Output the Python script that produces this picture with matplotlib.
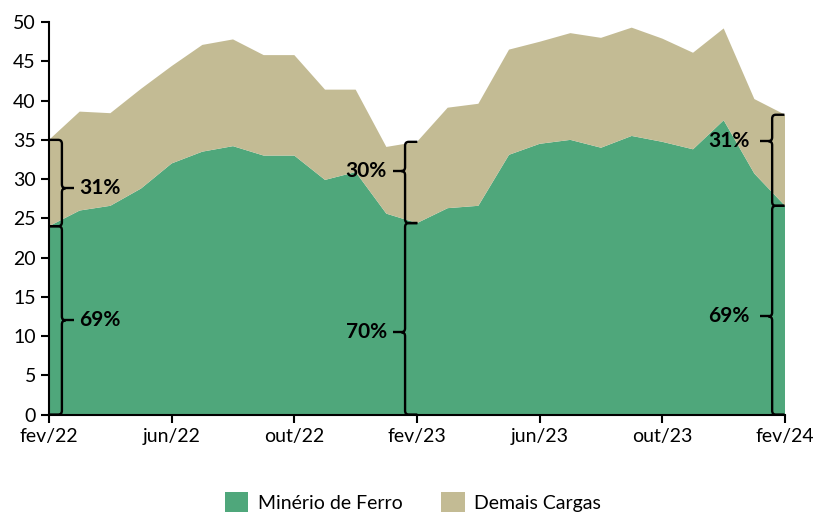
import matplotlib
matplotlib.use("Agg")
import matplotlib.pyplot as plt
from matplotlib.path import Path
from matplotlib.patches import PathPatch, Patch
import numpy as np

plt.rcParams['font.family'] = ['Lato', 'DejaVu Sans']

meses = ['fev/22', 'mar/22', 'abr/22', 'mai/22', 'jun/22', 'jul/22', 'ago/22', 'set/22',
         'out/22', 'nov/22', 'dez/22', 'jan/23', 'fev/23', 'mar/23', 'abr/23', 'mai/23',
         'jun/23', 'jul/23', 'ago/23', 'set/23', 'out/23', 'nov/23', 'dez/23', 'jan/24', 'fev/24']
minerio = [24.0, 26.0, 26.6, 28.8, 32.0, 33.5, 34.2, 33.0, 33.0, 29.9, 30.9, 25.6, 24.4,
           26.3, 26.6, 33.1, 34.5, 35.0, 34.0, 35.5, 34.75, 33.8, 37.5, 30.7, 26.6]
total = [35.0, 38.6, 38.4, 41.5, 44.4, 47.1, 47.8, 45.8, 45.8, 41.4, 41.4, 34.1, 34.75,
         39.1, 39.6, 46.5, 47.5, 48.6, 48.0, 49.3, 47.9, 46.1, 49.2, 40.2, 38.2]
demais = [t - m for t, m in zip(total, minerio)]

tick_pos = [0, 4, 8, 12, 16, 20, 24]
# (mes, % demais, % minerio)
participacao = [('fev/22', '31%', '69%'), ('fev/23', '30%', '70%'), ('fev/24', '31%', '69%')]

VERDE = '#4fa77b'
BEGE = '#c3bb94'

fig = plt.figure(figsize=(8.13, 5.15), dpi=100)
ax = fig.add_axes([0.0603, 0.195, 0.9053, 0.762])

x = np.arange(len(meses))
ax.stackplot(x, minerio, demais, colors=[VERDE, BEGE], linewidth=0)


def chave(ax, xl, y0, y1, frac, d, texto, gap):
    # desenha uma chave vertical entre y0 e y1
    rx, ry, ex = 0.12, 0.5, 0.4
    ym = y0 + frac * (y1 - y0)
    verts = [(xl - d * ex, y1), (xl - d * rx, y1), (xl, y1), (xl, y1 - ry),
             (xl, ym + ry), (xl, ym), (xl + d * rx, ym), (xl, ym), (xl, ym - ry),
             (xl, y0 + ry), (xl, y0), (xl - d * rx, y0), (xl - d * ex, y0)]
    codes = [Path.MOVETO, Path.LINETO, Path.CURVE3, Path.CURVE3,
             Path.LINETO, Path.CURVE3, Path.CURVE3, Path.CURVE3, Path.CURVE3,
             Path.LINETO, Path.CURVE3, Path.CURVE3, Path.LINETO]
    ax.add_patch(PathPatch(Path(verts, codes), fill=False, lw=1.7, color='black',
                           clip_on=False, zorder=5))
    ax.plot([xl, xl + d * 0.4], [ym, ym], color='black', lw=1.7, zorder=5,
            solid_capstyle='butt', clip_on=False)
    ax.text(xl + d * gap, ym, texto, ha='left' if d > 0 else 'right', va='center',
            fontsize=15, fontweight='bold', zorder=6)


# deslocamento da chave, lado, posicao do meio (sup, inf), distancia do texto
ajustes = {'fev/22': (0.42, 1, 0.44, 0.5, 0.55), 'fev/23': (-0.39, -1, 0.64, 0.43, 0.6),
           'fev/24': (-0.42, -1, 0.71, 0.47, 0.75)}
for mes, p_dem, p_min in participacao:
    i = meses.index(mes)
    dx, d, f_sup, f_inf, gap = ajustes[mes]
    chave(ax, i + dx, minerio[i], total[i], f_sup, d, p_dem, gap)
    chave(ax, i + dx, 0, minerio[i], f_inf, d, p_min, gap)

ax.set_xlim(0, 24)
ax.set_ylim(0, 50)
ax.set_yticks(range(0, 51, 5))
ax.set_xticks(tick_pos)
ax.set_xticklabels([meses[i] for i in tick_pos])
ax.tick_params(axis='both', labelsize=14, length=6, width=1.5, color='black')
ax.tick_params(axis='x', pad=4)
for s in ['top', 'right']:
    ax.spines[s].set_visible(False)
for s in ['left', 'bottom']:
    ax.spines[s].set_linewidth(1.5)
ax.set_axisbelow(False)

handles = [Patch(facecolor=VERDE, label='Minério de Ferro'),
           Patch(facecolor=BEGE, label='Demais Cargas')]
fig.legend(handles=handles, loc='center', bbox_to_anchor=(0.508, 0.025), ncol=2,
           frameon=False, fontsize=14, handlelength=1.2, handleheight=1.2,
           columnspacing=2.0, handletextpad=0.5)

fig.savefig('out.png', dpi=100)
